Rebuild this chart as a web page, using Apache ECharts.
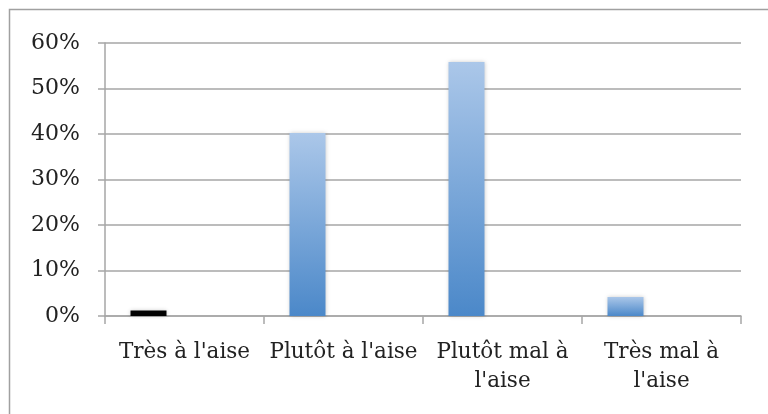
<!DOCTYPE html>
<html>
<head>
<meta charset="utf-8">
<script src="https://cdn.jsdelivr.net/npm/echarts@6/dist/echarts.min.js"></script>
<style>
  html, body { margin: 0; padding: 0; background: #fff; }
  #chart { width: 768px; height: 414px; }
</style>
</head>
<body>
<div id="chart"></div>
<script>
// data
const categories = ["Très à l'aise", "Plutôt à l'aise", "Plutôt mal à\nl'aise", "Très mal à\nl'aise"];
const values = [1.2, 40.2, 55.8, 4.2];
const yTicks = [0, 10, 20, 30, 40, 50, 60];

const font = 'DejaVu Serif';
const gridColor = '#a6a6a6';

const blueFill = new echarts.graphic.LinearGradient(0, 0, 0, 1, [
  { offset: 0, color: '#abc7e9' },
  { offset: 1, color: '#4b88c9' }
]);

const chart = echarts.init(document.getElementById('chart'));
chart.setOption({
  animation: false,
  graphic: [{
    type: 'rect',
    shape: { x: 9.5, y: 9.5, width: 780, height: 420 },
    style: { fill: 'none', stroke: '#a0a0a0', lineWidth: 1.5 },
    silent: true
  }],
  grid: { left: 105, right: 27, top: 43, bottom: 98 },
  xAxis: {
    type: 'category',
    data: categories,
    axisLine: { lineStyle: { color: gridColor, width: 1.5 } },
    axisTick: { show: true, length: 8, alignWithLabel: false, lineStyle: { color: gridColor, width: 1.5 } },
    axisLabel: {
      color: '#222',
      fontFamily: font,
      fontSize: 21.5,
      margin: 22,
      lineHeight: 29,
      interval: 0
    }
  },
  yAxis: {
    type: 'value',
    min: yTicks[0],
    max: yTicks[yTicks.length - 1],
    interval: 10,
    axisLine: { show: true, lineStyle: { color: gridColor, width: 1.5 } },
    axisTick: { show: true, length: 7, lineStyle: { color: gridColor, width: 1.5 } },
    splitLine: { lineStyle: { color: gridColor, width: 1.5 } },
    axisLabel: {
      color: '#222',
      fontFamily: font,
      fontSize: 22,
      margin: 25,
      formatter: v => v + '%'
    }
  },
  series: [
    {
      type: 'bar',
      barWidth: 36,
      barGap: '100%',
      data: values.map((v, i) => i === 0
        ? { value: v, itemStyle: { color: '#000' } }
        : { value: v }),
      itemStyle: {
        color: blueFill,
        shadowColor: 'rgba(0,0,0,0.2)',
        shadowBlur: 4
      }
    },
    {
      type: 'bar',
      barWidth: 36,
      data: categories.map(() => null)
    }
  ]
});
</script>
</body>
</html>
